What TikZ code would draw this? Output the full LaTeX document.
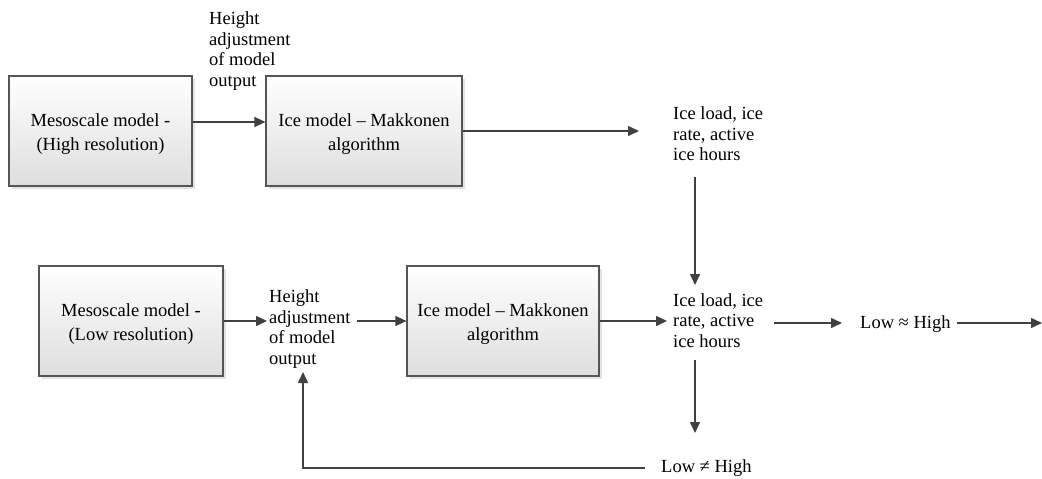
\documentclass[tikz,border=0pt]{standalone}
\usepackage{fontspec}
\setmainfont{Liberation Serif}
\usetikzlibrary{arrows.meta,shadows}
\definecolor{lncol}{HTML}{404040}
\definecolor{bdcol}{HTML}{555555}
\newcommand{\toppad}{\rule{0pt}{18.6pt}}
\tikzset{
  box/.style={draw=bdcol, line width=1.2pt, top color=white, bottom color=black!13,
    drop shadow={shadow xshift=3pt,shadow yshift=-3pt,fill=black!22},
    align=center, inner sep=0pt, font=\fontsize{18.5}{23.5}\selectfont},
  txt/.style={align=left, inner sep=0pt, anchor=west, font=\fontsize{18.5}{20.5}\selectfont},
  arr/.style={draw=lncol, line width=1.5pt, -{Triangle[length=11pt,width=10pt]}},
  plain/.style={draw=lncol, line width=1.5pt}
}
\begin{document}
\begin{tikzpicture}[x=1pt,y=-1pt]
\useasboundingbox (0,0) rectangle (1042,479);
% boxes
\node[box, minimum width=183pt, minimum height=110pt] (b1) at (100.5,131) {\toppad Mesoscale model -\\(High resolution)};
\node[box, minimum width=196pt, minimum height=110pt] (b2) at (364,131) {\toppad Ice model – Makkonen\\algorithm};
\node[box, minimum width=184pt, minimum height=110pt] (b3) at (131,321) {\toppad Mesoscale model -\\(Low resolution)};
\node[box, minimum width=192pt, minimum height=110pt] (b4) at (503,321) {\toppad Ice model – Makkonen\\algorithm};
% texts
\node[txt] (t1) at (209,51) {Height\\adjustment\\of model\\output};
\node[txt] (t2) at (269,329) {Height\\adjustment\\of model\\output};
\node[txt] (il1) at (673,134) {Ice load, ice\\rate, active\\ice hours};
\node[txt] (il2) at (673,320.5) {Ice load, ice\\rate, active\\ice hours};
\node[txt] (eq) at (860,324) {Low ≈ High};
\node[txt] (ne) at (661,468) {Low ≠ High};
% free ends
\coordinate (c1) at (639,131);
\coordinate (v1) at (695,177);
\coordinate (v2) at (695,285);
\coordinate (v3) at (695,360);
\coordinate (v4) at (695,433);
\coordinate (out) at (1042,323);
\coordinate (fb) at (303,372);
% connectors
\draw[arr] ([yshift=9pt]b1.east) -- ([yshift=9pt]b2.west);
\draw[arr] (b2.east) -- (c1);
\draw[arr] (v1) -- (v2);
\draw[arr, shorten >=2pt] (b3.east) -- (b3.east -| t2.west);
\draw[arr, shorten <=6pt] (t2.east |- b4.west) -- (b4.west);
\draw[arr, shorten >=6pt] (b4.east) -- (b4.east -| il2.west);
\draw[arr, shorten <=11pt, shorten >=18pt] (il2.east |- out) -- (eq.west |- out);
\draw[arr, shorten <=6pt] (eq.east |- out) -- (out);
\draw[arr] (v3) -- (v4);
\draw[arr, shorten <=16pt] (ne.west) -| (fb);
\end{tikzpicture}
\end{document}
